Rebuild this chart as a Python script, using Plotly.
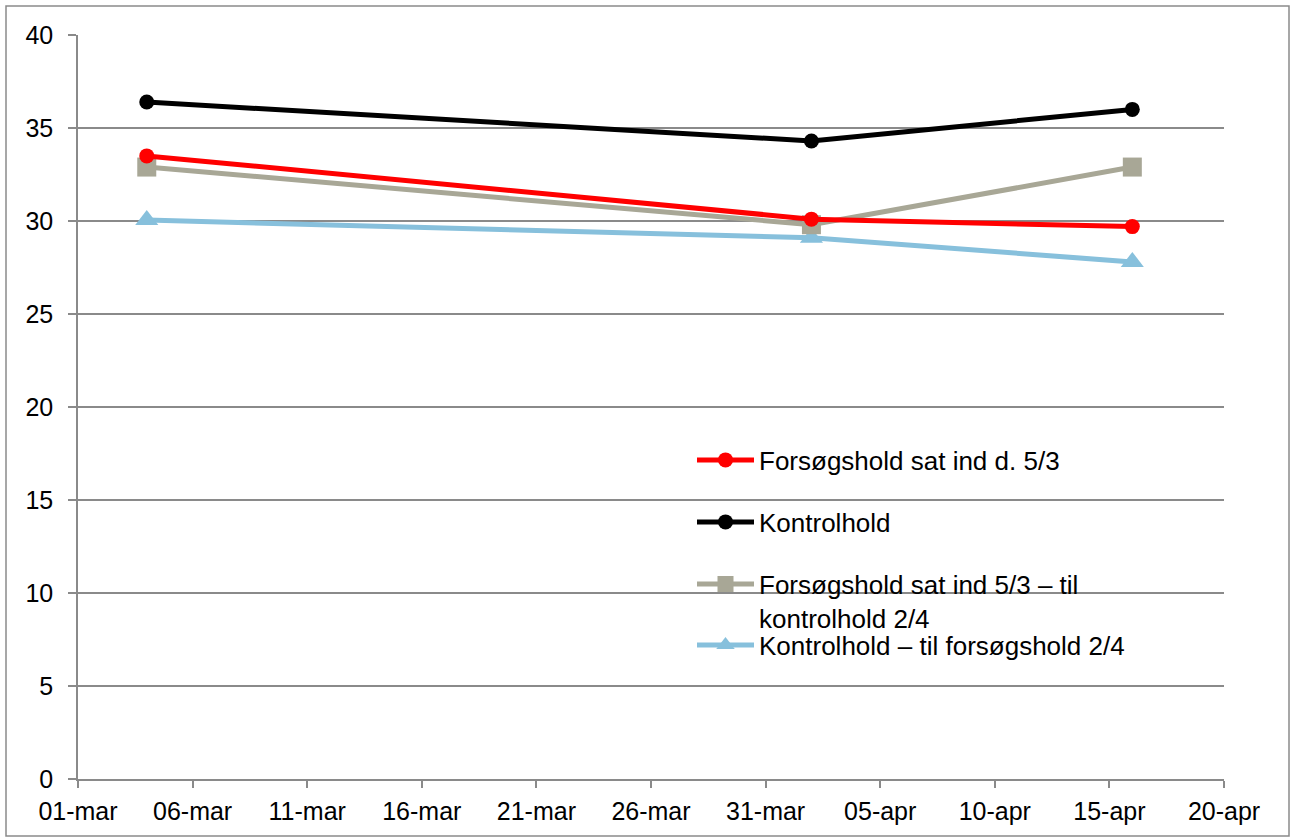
import plotly.graph_objects as go

dates = ["2013-03-04", "2013-04-02", "2013-04-16"]
forsog = [33.5, 30.1, 29.7]
kontrol = [36.4, 34.3, 36.0]
forsog_til_kontrol = [32.9, 29.8, 32.9]
kontrol_til_forsog = [30.05, 29.1, 27.8]

x_tickvals = ["2013-03-01", "2013-03-06", "2013-03-11", "2013-03-16", "2013-03-21",
              "2013-03-26", "2013-03-31", "2013-04-05", "2013-04-10", "2013-04-15", "2013-04-20"]
x_ticktext = ["01-mar", "06-mar", "11-mar", "16-mar", "21-mar", "26-mar",
              "31-mar", "05-apr", "10-apr", "15-apr", "20-apr"]
y_tickvals = [0, 5, 10, 15, 20, 25, 30, 35, 40]

FONT = "Liberation Sans, Arial, sans-serif"
GRID = "#8a8a8a"
LW = 5

W, H = 1292, 839
ML, MT, MR, MB = 78, 35, 68, 60
PW, PH = W - ML - MR, H - MT - MB

fig = go.Figure()
fig.add_trace(go.Scatter(
    x=dates, y=kontrol_til_forsog, name="Kontrolhold – til forsøgshold 2/4",
    mode="lines+markers", line=dict(color="#87C0DC", width=LW),
    marker=dict(symbol="triangle-up", size=20, color="#87C0DC"), legend="legend4"))
fig.add_trace(go.Scatter(
    x=dates, y=forsog_til_kontrol, name="Forsøgshold sat ind 5/3 – til<br>kontrolhold 2/4",
    mode="lines+markers", line=dict(color="#A8A796", width=LW),
    marker=dict(symbol="square", size=19, color="#A8A796"), legend="legend3"))
fig.add_trace(go.Scatter(
    x=dates, y=forsog, name="Forsøgshold sat ind d. 5/3",
    mode="lines+markers", line=dict(color="#FF0000", width=LW),
    marker=dict(symbol="circle", size=15, color="#FF0000"), legend="legend"))
fig.add_trace(go.Scatter(
    x=dates, y=kontrol, name="Kontrolhold",
    mode="lines+markers", line=dict(color="#000000", width=LW),
    marker=dict(symbol="circle", size=15, color="#000000"), legend="legend2"))


def leg(ycenter_px):
    return dict(x=(692 - ML) / PW, y=(H - MB - ycenter_px) / PH, xanchor="left", yanchor="middle",
                bgcolor="rgba(0,0,0,0)", font=dict(family=FONT, size=26, color="black"),
                valign="top", itemwidth=57)


fig.update_layout(
    width=W, height=H,
    margin=dict(l=ML, r=MR, t=MT, b=MB),
    paper_bgcolor="white", plot_bgcolor="white",
    font=dict(family=FONT, size=25, color="black"),
    showlegend=True,
    legend=leg(460),
    legend2=leg(522),
    legend3=leg(601),
    legend4=leg(645),
    xaxis=dict(type="date", range=["2013-03-01", "2013-04-20"],
               tickvals=x_tickvals, ticktext=x_ticktext,
               showgrid=False, showline=True, linecolor=GRID, linewidth=1.5,
               ticks="outside", ticklen=7, tickcolor=GRID, tickwidth=1.5,
               ticklabelstandoff=2,
               tickfont=dict(family=FONT, size=25), zeroline=False),
    yaxis=dict(range=[0, 40], tickvals=y_tickvals,
               showgrid=True, gridcolor=GRID, gridwidth=1.5,
               showline=True, linecolor=GRID, linewidth=1.5,
               ticks="outside", ticklen=8, tickcolor=GRID, tickwidth=1.5,
               ticklabelstandoff=10,
               tickfont=dict(family=FONT, size=25), zeroline=False),
    shapes=[dict(type="rect", xref="paper", yref="paper",
                 x0=(6 - ML) / PW, x1=(1289 - ML) / PW,
                 y0=-(836 - (H - MB)) / PH, y1=(H - MB - 6) / PH,
                 line=dict(color=GRID, width=1.5), fillcolor="rgba(0,0,0,0)", layer="below")],
)

fig.write_html("out.html", config={"displayModeBar": False},
               post_script="document.body.style.margin='0';document.body.style.overflow='hidden';")
